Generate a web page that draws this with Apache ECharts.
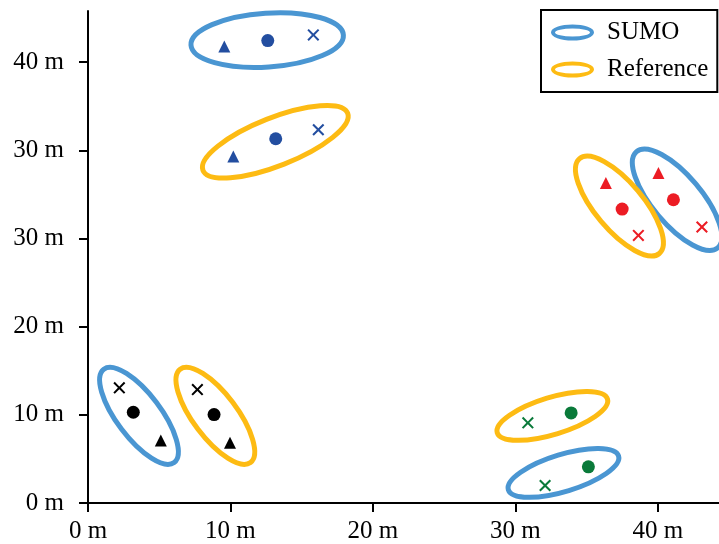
<!DOCTYPE html>
<html>
<head>
<meta charset="utf-8">
<script src="https://cdn.jsdelivr.net/npm/echarts@6/dist/echarts.min.js"></script>
<style>
  html, body { margin: 0; padding: 0; background: #fff; }
  #chart { width: 719px; height: 544px; }
</style>
</head>
<body>
<div id="chart"></div>
<script>
// Axis tick positions and their printed labels
const xTickValues = [0, 10, 20, 30, 40];
const xTickLabels = ['0 m', '10 m', '20 m', '30 m', '40 m'];
const yTickValues = [0, 10, 20, 30, 40, 50];
const yTickLabels = ['0 m', '10 m', '20 m', '30 m', '30 m', '40 m'];

// Vehicle positions, each as [triangle, circle, cross] in metres (null = not present)
const topSumo   = [[9.57, 51.77], [12.62, 52.45], [15.82, 53.09]];
const topRef    = [[10.20, 39.30], [13.18, 41.31], [16.17, 42.33]];
const rightSumo = [[40.05, 37.42], [41.10, 34.39], [43.10, 31.30]];
const rightRef  = [[36.36, 36.29], [37.50, 33.34], [38.64, 30.35]];
const leftSumo  = [[5.11, 7.08], [3.18, 10.29], [2.20, 13.06]];
const leftRef   = [[9.97, 6.82], [8.85, 10.03], [7.68, 12.86]];
const lowSumo   = [null, [35.13, 4.10], [32.09, 1.98]];
const lowRef    = [null, [33.92, 10.22], [30.88, 9.09]];

// Grouping ellipses: [centreX, centreY, majorTipX, majorTipY, minor/major ratio]
const sumoEllipses = [
  [12.58, 52.50, 17.93, 53.07, 0.353],
  [41.36, 34.39, 44.21, 28.93, 0.389],
  [3.58, 9.89, 6.05, 4.60, 0.376],
  [33.38, 3.42, 37.25, 5.33, 0.321]
];
const refEllipses = [
  [13.15, 40.97, 18.23, 44.21, 0.309],
  [37.31, 33.68, 40.11, 28.30, 0.387],
  [8.94, 9.89, 11.41, 4.60, 0.376],
  [32.60, 9.88, 36.47, 11.79, 0.321]
];

const FONT = '"Liberation Serif", "Times New Roman", serif';
const FONT_SIZE = 25;
const SUMO_COLOR = '#4a96d2';
const REF_COLOR = '#fdbb13';
const CROSS = 'path://M1.2,0 L5,3.8 L8.8,0 L10,1.2 L6.2,5 L10,8.8 L8.8,10 L5,6.2 L1.2,10 L0,8.8 L3.8,5 L0,1.2 Z';
const RING = 'path://M0,8 A21.5,8 0 1,1 43,8 A21.5,8 0 1,1 0,8 Z M4,8 A17.5,4 0 1,0 39,8 A17.5,4 0 1,0 4,8 Z';

const shapes = [
  { symbol: 'triangle', size: [12, 12] },
  { symbol: 'circle', size: 13 },
  { symbol: CROSS, size: 12 }
];

function markerSeries(points, color) {
  const data = [];
  points.forEach((p, i) => {
    if (!p) return;
    data.push({ value: p, symbol: shapes[i].symbol, symbolSize: shapes[i].size });
  });
  return {
    type: 'scatter',
    data: data,
    itemStyle: { color: color, opacity: 1 },
    emphasis: { disabled: true },
    z: 3,
    silent: true
  };
}

function ellipseSeries(name, rows, color) {
  return {
    name: name,
    type: 'custom',
    data: rows,
    itemStyle: { color: color },
    silent: true,
    z: 2,
    renderItem: function (params, api) {
      const c = api.coord([api.value(0), api.value(1)]);
      const t = api.coord([api.value(2), api.value(3)]);
      const dx = t[0] - c[0], dy = t[1] - c[1];
      const a = Math.sqrt(dx * dx + dy * dy);
      return {
        type: 'ellipse',
        shape: { cx: c[0], cy: c[1], rx: a, ry: a * api.value(4) },
        rotation: -Math.atan2(dy, dx),
        originX: c[0],
        originY: c[1],
        style: { fill: 'none', stroke: color, lineWidth: 5 }
      };
    }
  };
}

const axisCommon = {
  type: 'value',
  min: 0,
  interval: 10,
  splitLine: { show: false },
  axisLine: { show: true, onZero: false, lineStyle: { color: '#000', width: 2 } },
  axisTick: { show: true, length: 9, lineStyle: { color: '#000', width: 2 } }
};

const chart = echarts.init(document.getElementById('chart'), null, { renderer: 'canvas' });
chart.setOption({
  animation: false,
  backgroundColor: '#fff',
  grid: { left: 88, right: 0, top: 11, bottom: 40.5, containLabel: false },
  xAxis: Object.assign({}, axisCommon, {
    max: 44.3,
    axisTick: Object.assign({}, axisCommon.axisTick, { customValues: xTickValues }),
    axisLabel: {
      customValues: xTickValues,
      margin: 16,
      color: '#000',
      fontFamily: FONT,
      fontSize: FONT_SIZE,
      formatter: v => xTickLabels[xTickValues.indexOf(v)]
    }
  }),
  yAxis: Object.assign({}, axisCommon, {
    max: 55.8,
    axisTick: Object.assign({}, axisCommon.axisTick, { customValues: yTickValues }),
    axisLabel: {
      customValues: yTickValues,
      margin: 24,
      color: '#000',
      fontFamily: FONT,
      fontSize: FONT_SIZE,
      formatter: v => yTickLabels[yTickValues.indexOf(v)]
    }
  }),
  legend: {
    left: 541,
    top: 10,
    orient: 'vertical',
    itemWidth: 43,
    itemHeight: 16,
    itemGap: 12,
    padding: [10, 9, 10, 10],
    borderColor: '#000',
    borderWidth: 2,
    selectedMode: false,
    textStyle: { fontFamily: FONT, fontSize: FONT_SIZE, color: '#000', padding: [0, 0, 0, 8] },
    data: [
      { name: 'SUMO', icon: RING, itemStyle: { color: SUMO_COLOR } },
      { name: 'Reference', icon: RING, itemStyle: { color: REF_COLOR } }
    ]
  },
  series: [
    ellipseSeries('SUMO', sumoEllipses, SUMO_COLOR),
    ellipseSeries('Reference', refEllipses, REF_COLOR),
    markerSeries(topSumo, '#234ea0'),
    markerSeries(topRef, '#234ea0'),
    markerSeries(rightSumo, '#ec1c24'),
    markerSeries(rightRef, '#ec1c24'),
    markerSeries(leftSumo, '#000000'),
    markerSeries(leftRef, '#000000'),
    markerSeries(lowSumo, '#0a7a3a'),
    markerSeries(lowRef, '#0a7a3a')
  ]
});
</script>
</body>
</html>
